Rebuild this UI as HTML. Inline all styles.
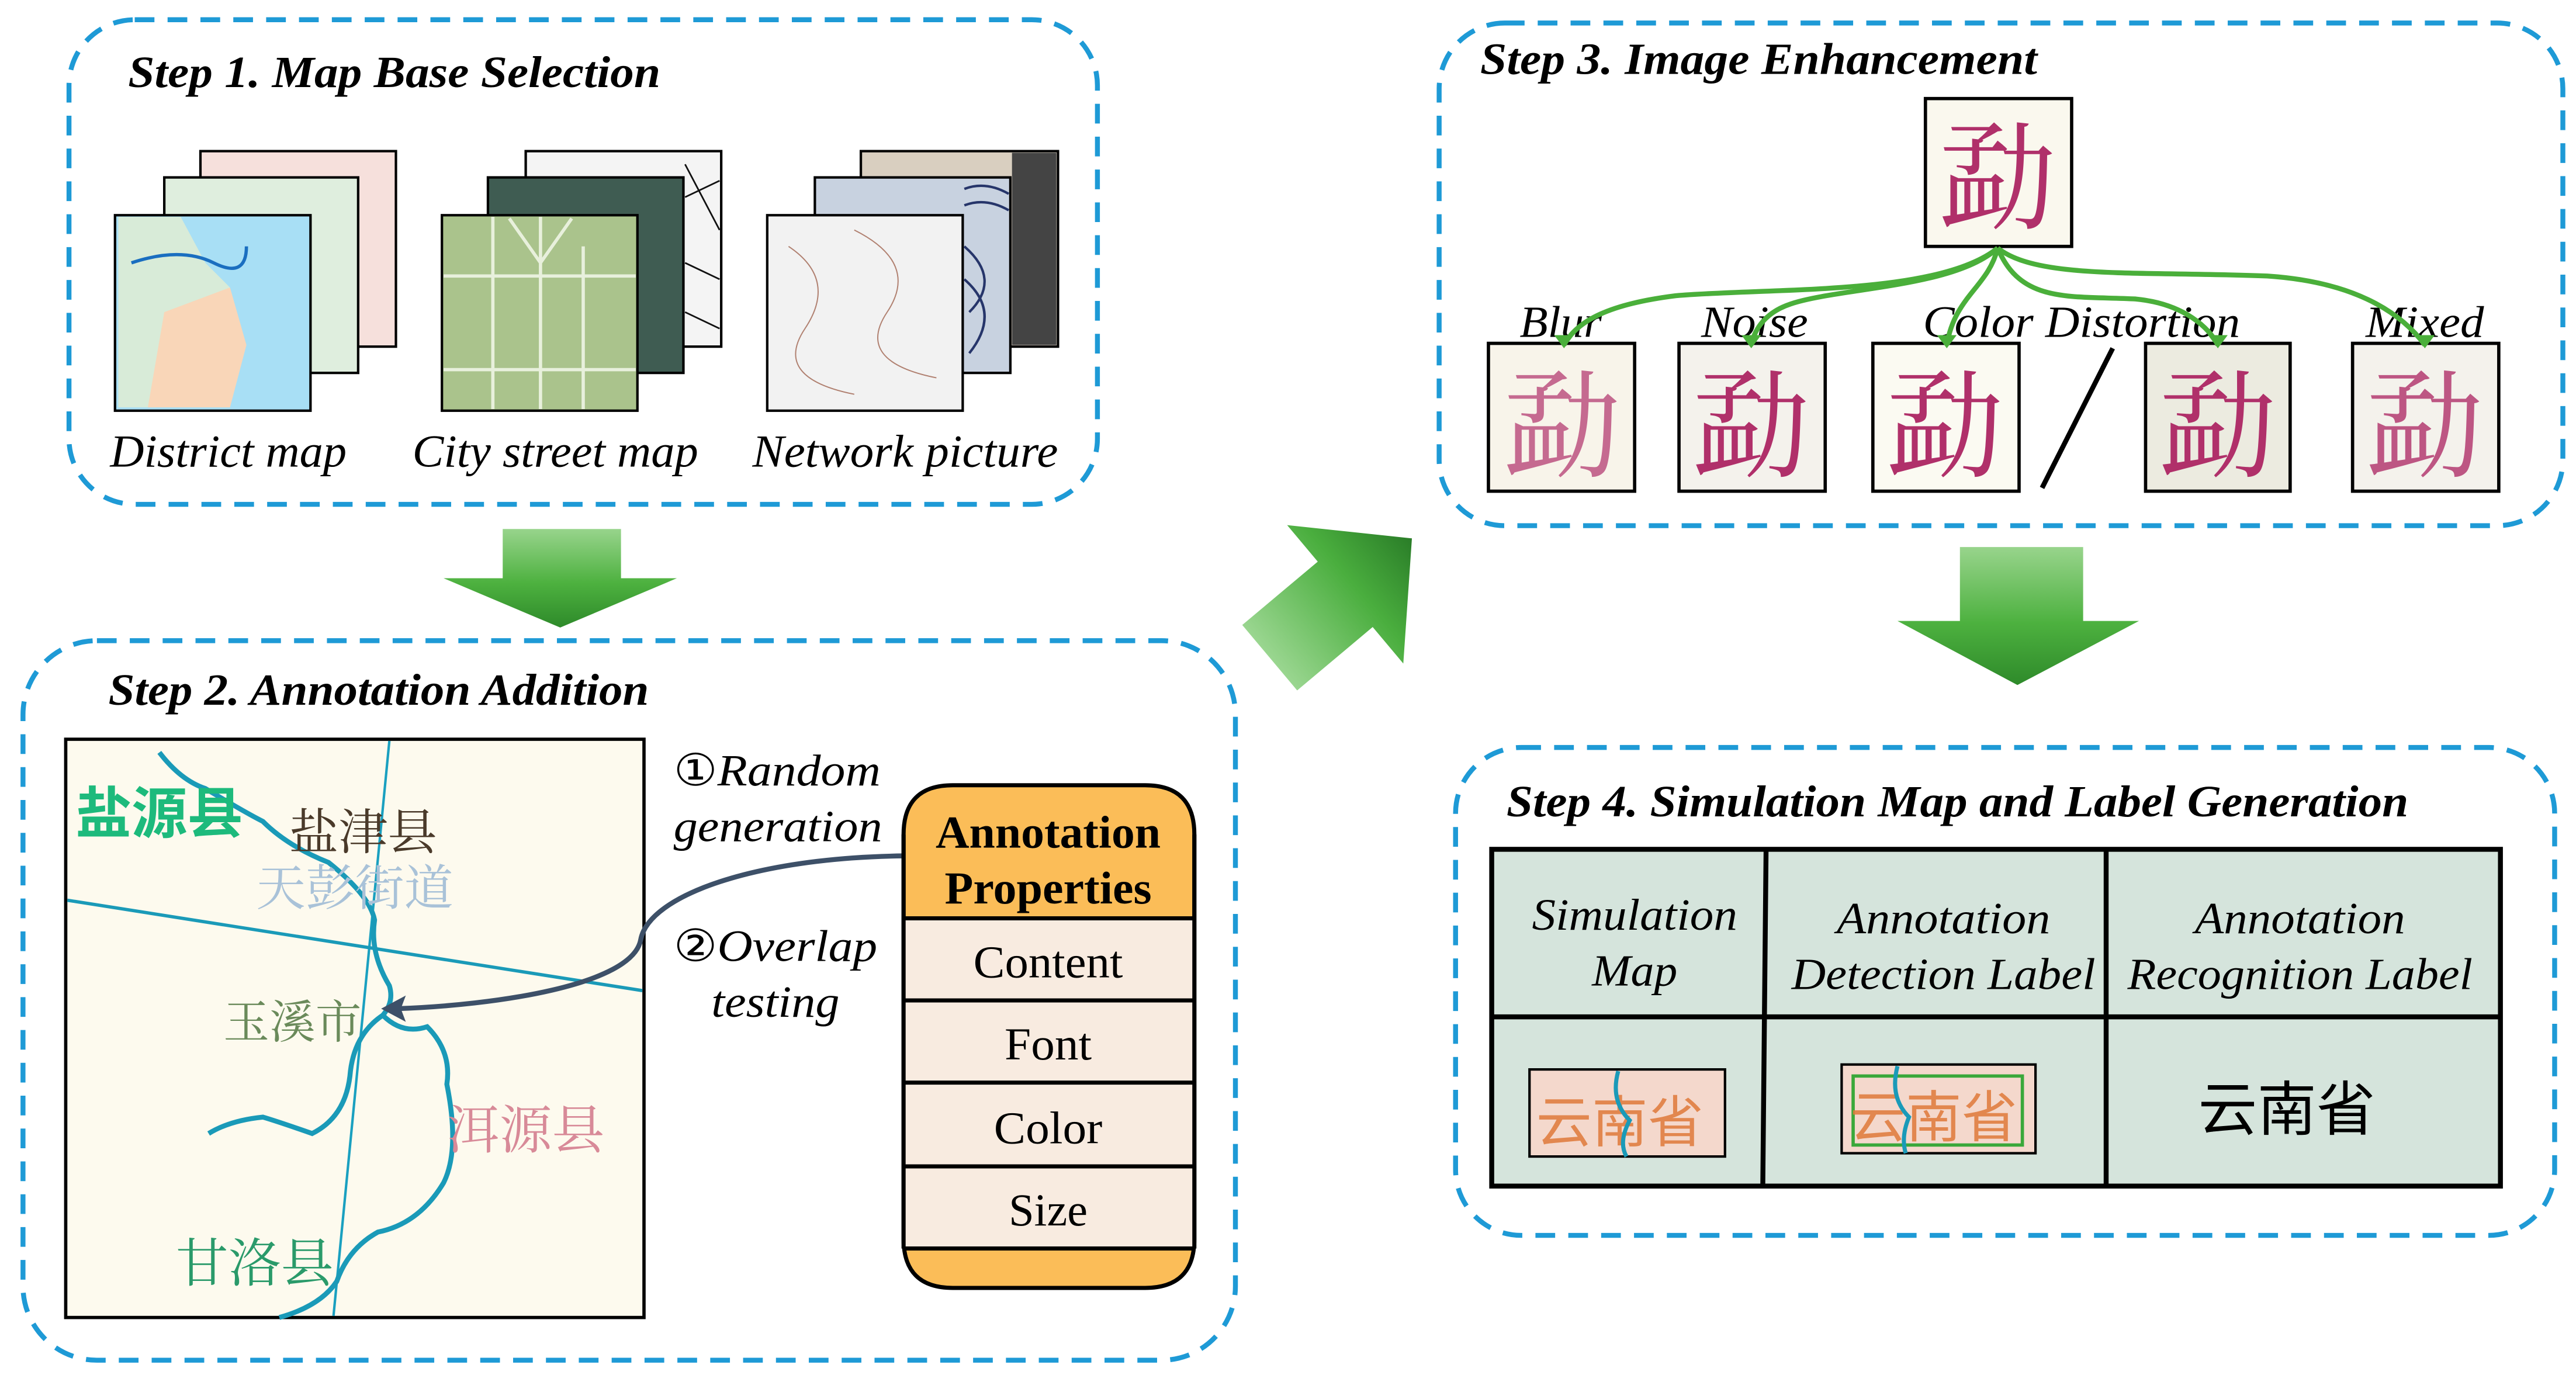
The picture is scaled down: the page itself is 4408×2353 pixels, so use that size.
<!DOCTYPE html>
<html><head><meta charset="utf-8"><style>
html,body{margin:0;padding:0;background:#fff;}
svg{display:block;}
.t{font-family:"Liberation Serif",serif;font-style:italic;}
.b{font-weight:bold;}
.cj{font-family:"Liberation Serif","Noto Serif CJK SC",serif;}
</style></head><body>
<svg width="4408" height="2353" viewBox="0 0 1568 837" preserveAspectRatio="none" xmlns="http://www.w3.org/2000/svg">
<defs>
<linearGradient id="gd" x1="0" y1="0" x2="0" y2="1"><stop offset="0" stop-color="#98d48c"/><stop offset="0.55" stop-color="#4db13f"/><stop offset="1" stop-color="#2e8a2a"/></linearGradient>
<linearGradient id="gr" x1="0" y1="0" x2="1" y2="0"><stop offset="0" stop-color="#9ad690"/><stop offset="0.6" stop-color="#4aae3e"/><stop offset="1" stop-color="#2a7d28"/></linearGradient>
</defs>
<g fill="none" stroke="#1e9ad6" stroke-width="3" stroke-dasharray="12 8">
<rect x="42" y="12" width="626" height="295" rx="40"/>
<rect x="14" y="390" width="738" height="438" rx="45"/>
<rect x="876" y="14" width="684" height="306" rx="40"/>
<rect x="886" y="455" width="669" height="297" rx="40"/>
</g>
<g class="t b" font-size="27" lengthAdjust="spacingAndGlyphs">
<text x="78" y="53" textLength="324" lengthAdjust="spacingAndGlyphs">Step 1. Map Base Selection</text>
<text x="66" y="429" textLength="329" lengthAdjust="spacingAndGlyphs">Step 2. Annotation Addition</text>
<text x="901" y="45" textLength="339" lengthAdjust="spacingAndGlyphs">Step 3. Image Enhancement</text>
<text x="917" y="497" textLength="549" lengthAdjust="spacingAndGlyphs">Step 4. Simulation Map and Label Generation</text>
</g>
<!-- arrows -->
<polygon points="306,322 378,322 378,352 412,352 341,382 270,352 306,352" fill="url(#gd)"/>
<polygon points="1193,333 1268,333 1268,378 1302,378 1228,417 1155,378 1193,378" fill="url(#gd)"/>
<g transform="translate(815,365) rotate(-40)"><polygon points="-55,-26 5,-26 5,-55 58,0 5,55 5,26 -55,26" fill="url(#gr)"/></g>
<!-- step1 images -->
<g stroke="#000" stroke-width="1.5">
<rect x="122" y="92" width="119" height="119" fill="#f6e0dc"/>
<rect x="100" y="108" width="118" height="119" fill="#dfeede"/>
<rect x="70" y="131" width="119" height="119" fill="#a8dff5"/>
<rect x="320" y="92" width="119" height="119" fill="#f4f4f4"/>
<rect x="297" y="108" width="119" height="119" fill="#3f5c52"/>
<rect x="269" y="131" width="119" height="119" fill="#aac38c"/>
<rect x="524" y="92" width="120" height="119" fill="#d9cfc0"/>
<rect x="496" y="108" width="119" height="119" fill="#c8d2e0"/>
<rect x="467" y="131" width="119" height="119" fill="#f2f2f2"/>
</g>
<path d="M72,132 L110,132 L125,160 L140,175 L110,200 L95,248 L72,248 Z" fill="#d8ebd8"/>
<path d="M100,190 L140,175 L150,210 L140,248 L90,248 Z" fill="#f9d6b8"/>
<path d="M80,160 Q110,150 130,160 T150,150" stroke="#1a6ec0" stroke-width="2" fill="none"/>
<g stroke="#e8f0dc" stroke-width="2" fill="none"><path d="M270,168 H387 M270,225 H387 M329,132 V249 M300,132 V249 M355,150 V249 M310,133 L329,160 L348,133"/></g>
<g stroke="#111" stroke-width="1" fill="none"><path d="M417,100 L438,140 M417,120 L438,110 M417,160 L438,170 M417,190 L438,200"/></g>
<g stroke="#26356a" stroke-width="1.5" fill="none"><path d="M587,115 Q600,110 614,118 M587,125 Q600,120 614,128 M587,150 Q610,170 590,190 M587,170 Q610,190 590,215"/></g>
<rect x="616" y="93" width="27" height="117" fill="#444"/>
<g stroke="#b08070" stroke-width="0.7" fill="none"><path d="M480,150 Q510,170 490,200 T520,240 M520,140 Q560,160 540,190 T570,230"/></g>
<g class="t" font-size="28">
<text x="67" y="284" textLength="144" lengthAdjust="spacingAndGlyphs">District map</text>
<text x="251" y="284" textLength="174" lengthAdjust="spacingAndGlyphs">City street map</text>
<text x="458" y="284" textLength="186" lengthAdjust="spacingAndGlyphs">Network picture</text>
</g>
<!-- step2 map -->
<rect x="40" y="450" width="352" height="352" fill="#fdfaee" stroke="#000" stroke-width="2"/>
<line x1="237" y1="451" x2="203" y2="801" stroke="#1aa0c0" stroke-width="1.5"/>
<line x1="41" y1="548" x2="391" y2="603" stroke="#1a9ab8" stroke-width="2"/>
<path d="M97,458 Q110,475 125,480 Q150,495 160,500 Q175,515 200,525 Q225,545 228,560 Q225,580 237,600 Q240,610 233,618 Q245,630 260,625 Q275,640 272,660 Q280,700 270,720 Q255,745 230,750 Q212,760 205,780 Q195,795 170,802" fill="none" stroke="#1a9ab8" stroke-width="3"/>
<path d="M233,618 Q215,630 213,655 Q210,680 190,690 Q170,683 160,680 Q140,682 127,690" fill="none" stroke="#1a9ab8" stroke-width="3"/>
<text x="46" y="507" font-size="34" font-weight="bold" fill="#1dba7c" style="font-family:'Noto Sans CJK SC',sans-serif">盐源县</text>
<text class="cj" x="176" y="517" font-size="30" fill="#4a3a2a">盐津县</text>
<text class="cj" x="156" y="551" font-size="30" fill="#a9c2d8">天彭街道</text>
<text class="cj" x="136" y="632" font-size="28" fill="#6a8a5a">玉溪市</text>
<text class="cj" x="272" y="699" font-size="32" fill="#d88a98">洱源县</text>
<text class="cj" x="107" y="780" font-size="32" fill="#2a9a6a">甘洛县</text>
<g class="t" font-size="27">
<text x="410" y="478" textLength="126" lengthAdjust="spacingAndGlyphs"><tspan font-style="normal">①</tspan>Random</text>
<text x="410" y="512" textLength="127" lengthAdjust="spacingAndGlyphs">generation</text>
<text x="410" y="585" textLength="124" lengthAdjust="spacingAndGlyphs"><tspan font-style="normal">②</tspan>Overlap</text>
<text x="433" y="619" textLength="78" lengthAdjust="spacingAndGlyphs">testing</text>
</g>
<path d="M550,521 C460,522 395,545 390,572 C385,600 300,612 242,614" fill="none" stroke="#3d5068" stroke-width="3"/>
<polygon points="232,614 247,606 244,614 247,622" fill="#3d5068"/>
<!-- properties box -->
<path d="M580,478 H697 Q727,478 727,508 V754 Q727,784 697,784 H580 Q550,784 550,754 V508 Q550,478 580,478 Z" fill="#fbbd58" stroke="#000" stroke-width="2.5"/>
<rect x="550" y="559" width="177" height="201" fill="#f8ebe0"/>
<g stroke="#000" stroke-width="2.5"><line x1="550" y1="559" x2="727" y2="559"/><line x1="550" y1="609" x2="727" y2="609"/><line x1="550" y1="659" x2="727" y2="659"/><line x1="550" y1="710" x2="727" y2="710"/><line x1="550" y1="760" x2="727" y2="760"/><line x1="550" y1="508" x2="550" y2="760"/><line x1="727" y1="508" x2="727" y2="760"/></g>
<g font-family="Liberation Serif,serif" font-size="28" text-anchor="middle">
<text x="638" y="516" font-weight="bold" textLength="137" lengthAdjust="spacingAndGlyphs">Annotation</text>
<text x="638" y="550" font-weight="bold" textLength="126" lengthAdjust="spacingAndGlyphs">Properties</text>
<text x="638" y="595" textLength="91" lengthAdjust="spacingAndGlyphs">Content</text>
<text x="638" y="645" textLength="53" lengthAdjust="spacingAndGlyphs">Font</text>
<text x="638" y="696" textLength="66" lengthAdjust="spacingAndGlyphs">Color</text>
<text x="638" y="746" textLength="48" lengthAdjust="spacingAndGlyphs">Size</text>
</g>
<!-- step3 -->
<g stroke="#000" stroke-width="2">
<rect x="1172" y="60" width="89" height="90" fill="#faf8ee"/>
<rect x="906" y="209" width="89" height="90" fill="#f8f4ea"/>
<rect x="1022" y="209" width="89" height="90" fill="#f4f2ec"/>
<rect x="1140" y="209" width="89" height="90" fill="#fbfaf2"/>
<rect x="1306" y="209" width="88" height="90" fill="#ecebe0"/>
<rect x="1432" y="209" width="89" height="90" fill="#f4f2ec"/>
</g>
<line x1="1286" y1="212" x2="1243" y2="297" stroke="#000" stroke-width="3"/>
<g font-family="Liberation Serif,'Noto Serif CJK SC',serif" font-size="72" fill="#b0306a" text-anchor="middle">
<text x="1216" y="134">勐</text>
<text x="951" y="285" opacity="0.7">勐</text>
<text x="1066" y="285">勐</text>
<text x="1184" y="285">勐</text>
<text x="1350" y="285">勐</text>
<text x="1476" y="285" opacity="0.8">勐</text>
</g>
<g class="t" font-size="27" text-anchor="middle">
<text x="950" y="205" textLength="50" lengthAdjust="spacingAndGlyphs">Blur</text>
<text x="1068" y="205" textLength="65" lengthAdjust="spacingAndGlyphs">Noise</text>
<text x="1267" y="205" textLength="193" lengthAdjust="spacingAndGlyphs">Color Distortion</text>
<text x="1476" y="205" textLength="72" lengthAdjust="spacingAndGlyphs">Mixed</text>
</g>
<g fill="none" stroke="#4aaf3a" stroke-width="3">
<path d="M1216,151 C1180,180 1080,175 1020,180 C980,185 960,195 952,210"/>
<path d="M1216,151 C1190,175 1120,175 1090,185 C1075,190 1068,200 1066,210"/>
<path d="M1216,151 C1210,175 1190,180 1185,210"/>
<path d="M1216,151 C1230,185 1260,180 1300,182 C1330,185 1345,200 1350,210"/>
<path d="M1216,151 C1240,170 1300,165 1380,168 C1440,172 1465,195 1476,210"/>
</g>
<g fill="#4aaf3a"><polygon points="946,204 958,204 952,212"/><polygon points="1060,204 1072,204 1066,212"/><polygon points="1179,204 1191,204 1185,212"/><polygon points="1344,204 1356,204 1350,212"/><polygon points="1470,204 1482,204 1476,212"/></g>
<!-- step4 table -->
<rect x="908" y="517" width="614" height="205" fill="#d5e4dc" stroke="#000" stroke-width="3"/>
<g stroke="#000" stroke-width="3"><line x1="908" y1="619" x2="1522" y2="619"/><line x1="1075" y1="517" x2="1073" y2="722"/><line x1="1282" y1="517" x2="1282" y2="722"/></g>
<g class="t" font-size="27" text-anchor="middle">
<text x="995" y="566" textLength="125" lengthAdjust="spacingAndGlyphs">Simulation</text>
<text x="995" y="600" textLength="52" lengthAdjust="spacingAndGlyphs">Map</text>
<text x="1183" y="568" textLength="130" lengthAdjust="spacingAndGlyphs">Annotation</text>
<text x="1183" y="602" textLength="185" lengthAdjust="spacingAndGlyphs">Detection Label</text>
<text x="1400" y="568" textLength="128" lengthAdjust="spacingAndGlyphs">Annotation</text>
<text x="1400" y="602" textLength="210" lengthAdjust="spacingAndGlyphs">Recognition Label</text>
</g>
<rect x="931" y="651" width="119" height="53" fill="#f4d8cc" stroke="#000" stroke-width="1.5"/>
<rect x="1121" y="648" width="118" height="54" fill="#f4d8cc" stroke="#000" stroke-width="1.5"/>
<rect x="1128" y="655" width="103" height="42" fill="none" stroke="#3aa83a" stroke-width="2"/>
<g font-family="'Noto Sans CJK SC',sans-serif" font-size="34" fill="#e07a3a" opacity="0.85">
<text x="935" y="695">云南省</text><text x="1126" y="692">云南省</text></g>
<path d="M985,652 Q980,670 992,682 Q985,695 990,704" fill="none" stroke="#1a9ab8" stroke-width="2.5"/>
<path d="M1155,649 Q1150,668 1162,680 Q1157,692 1160,702" fill="none" stroke="#1a9ab8" stroke-width="2.5"/>
<text x="1392" y="688" font-family="'Noto Sans CJK SC',sans-serif" font-size="36" text-anchor="middle" fill="#000">云南省</text>
</svg>
</body></html>
